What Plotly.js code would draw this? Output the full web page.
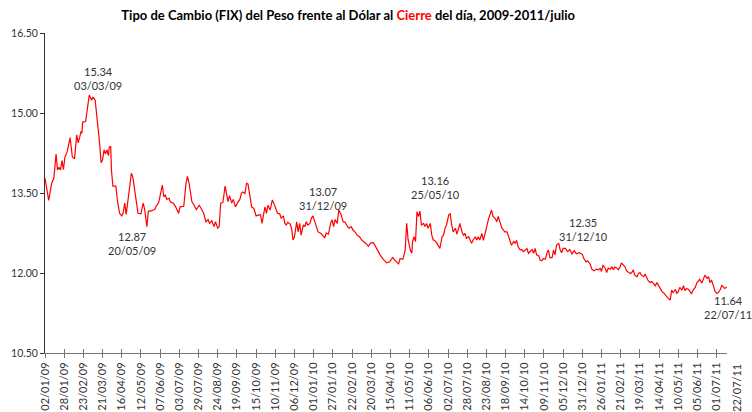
<!DOCTYPE html>
<html>
<head>
<meta charset="utf-8">
<script src="https://cdn.plot.ly/plotly-3.0.1.min.js"></script>
<style>html,body{margin:0;padding:0;background:#fff;}#chart{width:752px;height:412px;}</style>
</head>
<body>
<div id="chart"></div>
<script>
// Daily FIX exchange rate (MXN per USD)
const fixDates = [
"2009-01-02","2009-01-07","2009-01-11","2009-01-14","2009-01-17","2009-01-19","2009-01-21","2009-01-23","2009-01-25","2009-01-27","2009-01-29",
"2009-02-01","2009-02-05","2009-02-08","2009-02-11","2009-02-14","2009-02-16","2009-02-18","2009-02-20","2009-02-21","2009-02-22","2009-02-26",
"2009-03-01","2009-03-03","2009-03-06","2009-03-08","2009-03-11","2009-03-14","2009-03-17","2009-03-19","2009-03-21","2009-03-23","2009-03-25","2009-03-27","2009-03-29","2009-03-30",
"2009-04-01","2009-04-02","2009-04-04","2009-04-08","2009-04-10","2009-04-13","2009-04-16","2009-04-18","2009-04-20","2009-04-22","2009-04-24","2009-04-27","2009-04-29",
"2009-05-01","2009-05-04","2009-05-06","2009-05-08","2009-05-12","2009-05-15","2009-05-17","2009-05-20","2009-05-22","2009-05-25","2009-05-29","2009-05-31",
"2009-06-02","2009-06-05","2009-06-07","2009-06-10","2009-06-12","2009-06-14","2009-06-16","2009-06-19","2009-06-21","2009-06-25","2009-06-28",
"2009-07-02","2009-07-04","2009-07-09","2009-07-12","2009-07-14","2009-07-16","2009-07-20","2009-07-23","2009-07-26","2009-07-30",
"2009-08-02","2009-08-05","2009-08-08","2009-08-11","2009-08-13","2009-08-16","2009-08-19","2009-08-21","2009-08-24","2009-08-26","2009-08-28","2009-08-31",
"2009-09-03","2009-09-05","2009-09-07","2009-09-09","2009-09-12","2009-09-14","2009-09-17","2009-09-20","2009-09-23","2009-09-25","2009-09-27","2009-09-30",
"2009-10-02","2009-10-04","2009-10-06","2009-10-09","2009-10-12","2009-10-15","2009-10-19","2009-10-21","2009-10-23","2009-10-27","2009-10-29","2009-10-31",
"2009-11-03","2009-11-06","2009-11-08","2009-11-11","2009-11-13","2009-11-16","2009-11-18","2009-11-21","2009-11-23","2009-11-25","2009-11-27","2009-11-30",
"2009-12-02","2009-12-04","2009-12-06","2009-12-09","2009-12-11","2009-12-13","2009-12-15","2009-12-18","2009-12-20","2009-12-22","2009-12-24","2009-12-27","2009-12-29","2009-12-31",
"2010-01-04","2010-01-07","2010-01-11","2010-01-14","2010-01-16","2010-01-18","2010-01-21","2010-01-24","2010-01-26","2010-01-28","2010-01-30",
"2010-02-02","2010-02-04","2010-02-07","2010-02-10","2010-02-12","2010-02-14","2010-02-16","2010-02-18","2010-02-21","2010-02-23","2010-02-26",
"2010-03-01","2010-03-04","2010-03-07","2010-03-10","2010-03-13","2010-03-16","2010-03-19","2010-03-23","2010-03-27",
"2010-04-01","2010-04-05","2010-04-10","2010-04-14","2010-04-18","2010-04-21","2010-04-23","2010-04-26","2010-04-28",
"2010-05-02","2010-05-05","2010-05-07","2010-05-09","2010-05-12","2010-05-14","2010-05-15","2010-05-17","2010-05-19","2010-05-21","2010-05-23","2010-05-25","2010-05-27","2010-05-30",
"2010-06-01","2010-06-03","2010-06-05","2010-06-08","2010-06-10","2010-06-12","2010-06-14","2010-06-17","2010-06-19","2010-06-21","2010-06-24","2010-06-26","2010-06-28","2010-06-30",
"2010-07-03","2010-07-05","2010-07-07","2010-07-09","2010-07-12","2010-07-14","2010-07-16","2010-07-18","2010-07-21","2010-07-23","2010-07-25","2010-07-27","2010-07-30",
"2010-08-01","2010-08-03","2010-08-05","2010-08-08","2010-08-10","2010-08-12","2010-08-14","2010-08-17","2010-08-19","2010-08-21","2010-08-23","2010-08-26","2010-08-28","2010-08-30",
"2010-09-01","2010-09-04","2010-09-06","2010-09-08","2010-09-11","2010-09-13","2010-09-15","2010-09-17","2010-09-20","2010-09-22","2010-09-24","2010-09-26","2010-09-29",
"2010-10-01","2010-10-03","2010-10-05","2010-10-08","2010-10-10","2010-10-12","2010-10-14","2010-10-17","2010-10-19","2010-10-21","2010-10-24","2010-10-26","2010-10-28","2010-10-30",
"2010-11-02","2010-11-04","2010-11-06","2010-11-08","2010-11-11","2010-11-13","2010-11-15","2010-11-17","2010-11-20","2010-11-22","2010-11-24","2010-11-26","2010-11-29",
"2010-12-01","2010-12-03","2010-12-05","2010-12-08","2010-12-11","2010-12-14","2010-12-17","2010-12-20","2010-12-23","2010-12-27","2010-12-31",
"2011-01-02","2011-01-05","2011-01-07","2011-01-10","2011-01-13","2011-01-16","2011-01-19","2011-01-22","2011-01-24","2011-01-26","2011-01-28","2011-01-31",
"2011-02-02","2011-02-04","2011-02-07","2011-02-09","2011-02-11","2011-02-13","2011-02-16","2011-02-18","2011-02-20","2011-02-22","2011-02-25","2011-02-27",
"2011-03-01","2011-03-03","2011-03-06","2011-03-08","2011-03-10","2011-03-12","2011-03-15","2011-03-17","2011-03-19","2011-03-21","2011-03-24","2011-03-26","2011-03-28","2011-03-30",
"2011-04-02","2011-04-04","2011-04-06","2011-04-09","2011-04-11","2011-04-13","2011-04-15","2011-04-18","2011-04-20","2011-04-22","2011-04-24","2011-04-27","2011-04-29",
"2011-05-01","2011-05-03","2011-05-06","2011-05-08","2011-05-10","2011-05-12","2011-05-15","2011-05-17","2011-05-19","2011-05-21","2011-05-24","2011-05-26","2011-05-28","2011-05-30",
"2011-06-02","2011-06-04","2011-06-06","2011-06-08","2011-06-11","2011-06-13","2011-06-15","2011-06-18","2011-06-20","2011-06-22","2011-06-24","2011-06-27","2011-06-29",
"2011-07-01","2011-07-03","2011-07-06","2011-07-08","2011-07-10","2011-07-12","2011-07-15"
];
const fixValues = [
13.78,13.36,13.68,13.78,14.23,13.93,13.98,13.93,14.11,13.94,14.17,
14.27,14.54,14.18,14.14,14.59,14.44,14.57,14.66,14.62,14.83,14.84,
15.09,15.34,15.24,15.30,15.24,14.87,14.43,14.07,14.12,14.31,14.23,14.31,14.20,14.36,
14.37,13.93,13.63,13.63,13.37,13.12,13.07,13.13,13.31,13.10,13.33,13.59,13.87,
13.80,13.46,13.30,13.12,13.11,13.31,13.20,12.87,13.16,13.16,13.18,13.20,
13.26,13.32,13.45,13.65,13.43,13.46,13.38,13.40,13.33,13.31,13.24,
13.12,13.24,13.25,13.68,13.81,13.70,13.34,13.27,13.19,13.27,
13.20,13.12,12.96,13.00,12.93,12.98,12.87,12.96,12.84,12.87,13.31,13.32,
13.63,13.46,13.34,13.45,13.31,13.38,13.24,13.32,13.38,13.49,13.52,13.49,
13.68,13.67,13.49,13.24,13.21,13.07,13.09,13.09,12.93,13.24,13.12,13.27,
13.18,13.37,13.31,13.18,13.12,13.11,13.03,13.07,12.93,12.90,12.95,12.92,
12.84,12.62,12.68,12.96,12.77,12.93,12.71,12.90,12.87,12.96,12.90,12.93,13.03,13.07,
12.87,12.77,12.74,12.69,12.66,12.75,12.73,12.93,13.00,12.87,13.00,
12.93,13.18,13.10,12.96,12.96,12.90,12.87,12.84,12.87,12.81,12.77,
12.71,12.68,12.62,12.59,12.55,12.50,12.56,12.57,12.46,
12.34,12.26,12.19,12.21,12.29,12.24,12.21,12.17,12.27,
12.26,12.43,12.93,12.62,12.43,12.37,12.59,12.68,12.59,13.15,13.06,13.16,12.90,12.93,
12.87,12.93,12.84,12.93,12.71,12.62,12.61,12.56,12.52,12.46,12.68,12.71,12.84,12.90,
13.09,13.11,12.90,12.77,12.84,12.73,12.81,12.93,12.77,12.71,12.74,12.65,12.68,
12.61,12.56,12.62,12.68,12.62,12.68,12.62,12.74,12.61,12.71,12.84,13.02,13.09,13.18,
13.06,13.02,12.96,13.06,12.93,12.84,12.81,12.77,12.77,12.68,12.59,12.52,12.59,
12.56,12.61,12.49,12.43,12.44,12.40,12.43,12.46,12.37,12.40,12.44,12.37,12.46,12.34,
12.32,12.24,12.23,12.27,12.26,12.37,12.43,12.29,12.29,12.43,12.34,12.52,12.56,
12.43,12.38,12.46,12.46,12.40,12.44,12.36,12.42,12.36,12.38,12.35,
12.27,12.21,12.23,12.18,12.07,12.04,12.07,12.06,12.09,12.03,12.15,12.09,
12.01,12.09,12.07,12.12,12.06,12.11,12.09,12.06,12.11,12.19,12.13,12.11,
12.04,12.02,11.99,12.01,12.06,11.96,11.93,11.99,12.01,11.96,11.93,11.98,11.90,11.86,
11.82,11.84,11.81,11.76,11.82,11.77,11.73,11.65,11.63,11.59,11.56,11.52,11.49,
11.68,11.63,11.69,11.62,11.65,11.73,11.68,11.76,11.67,11.71,11.69,11.65,11.61,11.68,
11.73,11.81,11.84,11.88,11.81,11.87,11.96,11.90,11.93,11.82,11.87,11.74,11.65,
11.62,11.63,11.69,11.77,11.74,11.71,11.74
];

// X-axis ticks (every 26 days) and their labels
const tickDates = [
"2009-01-02","2009-01-28","2009-02-23","2009-03-21","2009-04-16","2009-05-12","2009-06-07","2009-07-03","2009-07-29","2009-08-24",
"2009-09-19","2009-10-15","2009-11-10","2009-12-06","2010-01-01","2010-01-27","2010-02-22","2010-03-20","2010-04-15","2010-05-11",
"2010-06-06","2010-07-02","2010-07-28","2010-08-23","2010-09-18","2010-10-14","2010-11-09","2010-12-05","2010-12-31","2011-01-26",
"2011-02-21","2011-03-19","2011-04-14","2011-05-10","2011-06-05","2011-07-01"
];
const tickLabels = [
"02/01/09","28/01/09","23/02/09","21/03/09","16/04/09","12/05/09","07/06/09","03/07/09","29/07/09","24/08/09",
"19/09/09","15/10/09","10/11/09","06/12/09","01/01/10","27/01/10","22/02/10","20/03/10","15/04/10","11/05/10",
"06/06/10","02/07/10","28/07/10","23/08/10","18/09/10","14/10/10","09/11/10","05/12/10","31/12/10","26/01/11",
"21/02/11","19/03/11","14/04/11","10/05/11","05/06/11","01/07/11"
];
const lastTickLabel = "22/07/11";
const yTicks = [10.5, 12.0, 13.5, 15.0, 16.5];

// Callout labels: value and date
const noteValues = ["15.34","12.87","13.07","13.16","12.35","11.64"];
const noteDates  = ["03/03/09","20/05/09","31/12/09","25/05/10","31/12/10","22/07/11"];
const noteX = [0.0773, 0.127, 0.4076, 0.5729, 0.789, 1.002];
const noteY = [0.859, 0.341, 0.4816, 0.517, 0.386, 0.142];

const FONT = "Lato, 'Open Sans', sans-serif";

const trace = {
  type: "scatter", mode: "lines",
  x: fixDates, y: fixValues,
  line: {color: "#ff0000", width: 1.2},
  hoverinfo: "x+y", showlegend: false
};
const traceTicks = {
  type: "scatter", mode: "lines",
  x: fixDates, y: fixValues, xaxis: "x2",
  line: {color: "rgba(0,0,0,0)", width: 0},
  hoverinfo: "skip", showlegend: false
};

const annotations = noteValues.map((v, i) => ({
  xref: "paper", yref: "paper", x: noteX[i], y: noteY[i],
  xanchor: "center", yanchor: "middle", showarrow: false,
  text: v + "<br>" + noteDates[i],
  font: {family: FONT, size: 11, color: "#333"}
}));
annotations.push({
  xref: "paper", yref: "paper", x: 1.0147, y: -0.028,
  xanchor: "center", yanchor: "top", showarrow: false, textangle: -90,
  text: lastTickLabel, font: {family: FONT, size: 11, color: "#333"}
});

const layout = {
  width: 752, height: 412,
  margin: {l: 45, r: 25, t: 33, b: 59, pad: 0},
  paper_bgcolor: "#fff", plot_bgcolor: "#fff",
  title: {
    text: "<b>Tipo de Cambio (FIX) del Peso frente al Dólar al <span style='color:#ff0000'>Cierre</span> del día, 2009-2011/julio</b>",
    font: {family: FONT, size: 13, color: "#000"},
    xref: "container", yref: "container", x: 0.463, y: 0.963,
    xanchor: "center", yanchor: "middle"
  },
  xaxis: {
    type: "date", range: ["2009-01-02", "2011-07-15"],
    tickmode: "array", tickvals: tickDates, ticktext: tickLabels,
    tickangle: -90, ticks: "outside", ticklen: 4, tickcolor: "#777",
    showline: true, linecolor: "#777", linewidth: 1,
    showgrid: false, zeroline: false,
    tickfont: {family: FONT, size: 11, color: "#333"}
  },
  xaxis2: {
    type: "date", overlaying: "x", matches: "x",
    tickmode: "array", tickvals: tickDates,
    ticks: "inside", ticklen: 4, tickcolor: "#777",
    showticklabels: false, showline: false, showgrid: false, zeroline: false
  },
  yaxis: {
    range: [10.5, 16.5], tickmode: "array", tickvals: yTicks, tickformat: ".2f",
    ticks: "outside", ticklen: 4, tickcolor: "#333",
    showline: true, linecolor: "#333", linewidth: 1,
    showgrid: false, zeroline: false,
    tickfont: {family: FONT, size: 10.5, color: "#333"}
  },
  annotations: annotations
};

Plotly.newPlot("chart", [trace, traceTicks], layout, {displayModeBar: false, staticPlot: true});
</script>
</body>
</html>
